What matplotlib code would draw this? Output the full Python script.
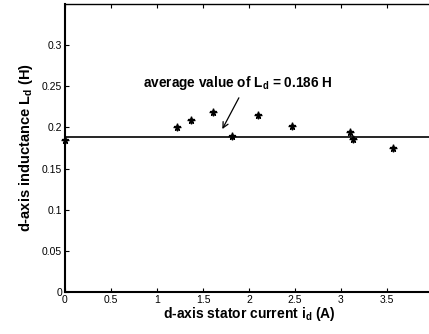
import numpy as np
import matplotlib
matplotlib.use("Agg")
import matplotlib.pyplot as plt

plt.rcParams['font.family'] = ['Liberation Sans', 'DejaVu Sans']
plt.rcParams['mathtext.fontset'] = 'custom'
plt.rcParams['mathtext.bf'] = 'Liberation Sans:bold'
plt.rcParams['mathtext.rm'] = 'Liberation Sans:bold'
plt.rcParams['mathtext.default'] = 'bf'

# measured points
i_d = [0.0, 1.22, 1.37, 1.61, 1.81, 2.10, 2.47, 3.10, 3.13, 3.56]
L_d = [0.185, 0.200, 0.209, 0.219, 0.190, 0.215, 0.202, 0.194, 0.186, 0.175]
L_avg = 0.188

xticks = [0, 0.5, 1, 1.5, 2, 2.5, 3, 3.5]
yticks = [0, 0.05, 0.1, 0.15, 0.2, 0.25, 0.3]

fig = plt.figure(figsize=(4.29, 3.34), dpi=100)
ax = fig.add_axes([65/429, 42/334, 368/429, 288/334])

ax.axhline(L_avg, color='black', linewidth=1.2)
ax.plot(i_d, L_d, linestyle='none', marker='*', markersize=5, color='black', clip_on=False)
ax.plot(i_d, L_d, linestyle='none', marker='+', markersize=6, color='black', markeredgewidth=1.0, clip_on=False)

ax.set_xlim(0, 4)
ax.set_ylim(0, 0.35)
ax.set_xticks(xticks)
ax.set_xticklabels([f"{t:g}" for t in xticks])
ax.set_yticks(yticks)
ax.set_yticklabels([f"{t:g}" for t in yticks])
ax.tick_params(direction='in', length=3, labelsize=7.5, top=True, pad=2, color='black')

ax.spines['left'].set_linewidth(1.5)
ax.spines['bottom'].set_linewidth(1.5)
ax.spines['top'].set_linewidth(1.0)
ax.spines['right'].set_visible(False)

ax.set_xlabel(r"d-axis stator current i$_{d}$ (A)", fontsize=10, fontweight='bold', labelpad=0)
ax.set_ylabel(r"d-axis inductance L$_{d}$ (H)", fontsize=10.5, fontweight='bold', labelpad=5)

ax.text(1.88, 0.254, r"average value of L$_{d}$ = 0.186 H", fontsize=9.8, fontweight='bold',
        ha='center', va='center')
ax.annotate("", xy=(1.71, 0.198), xytext=(1.89, 0.236),
            arrowprops=dict(arrowstyle='->', color='black', lw=0.9, shrinkA=0, shrinkB=0))

fig.savefig("out.png", dpi=100)
